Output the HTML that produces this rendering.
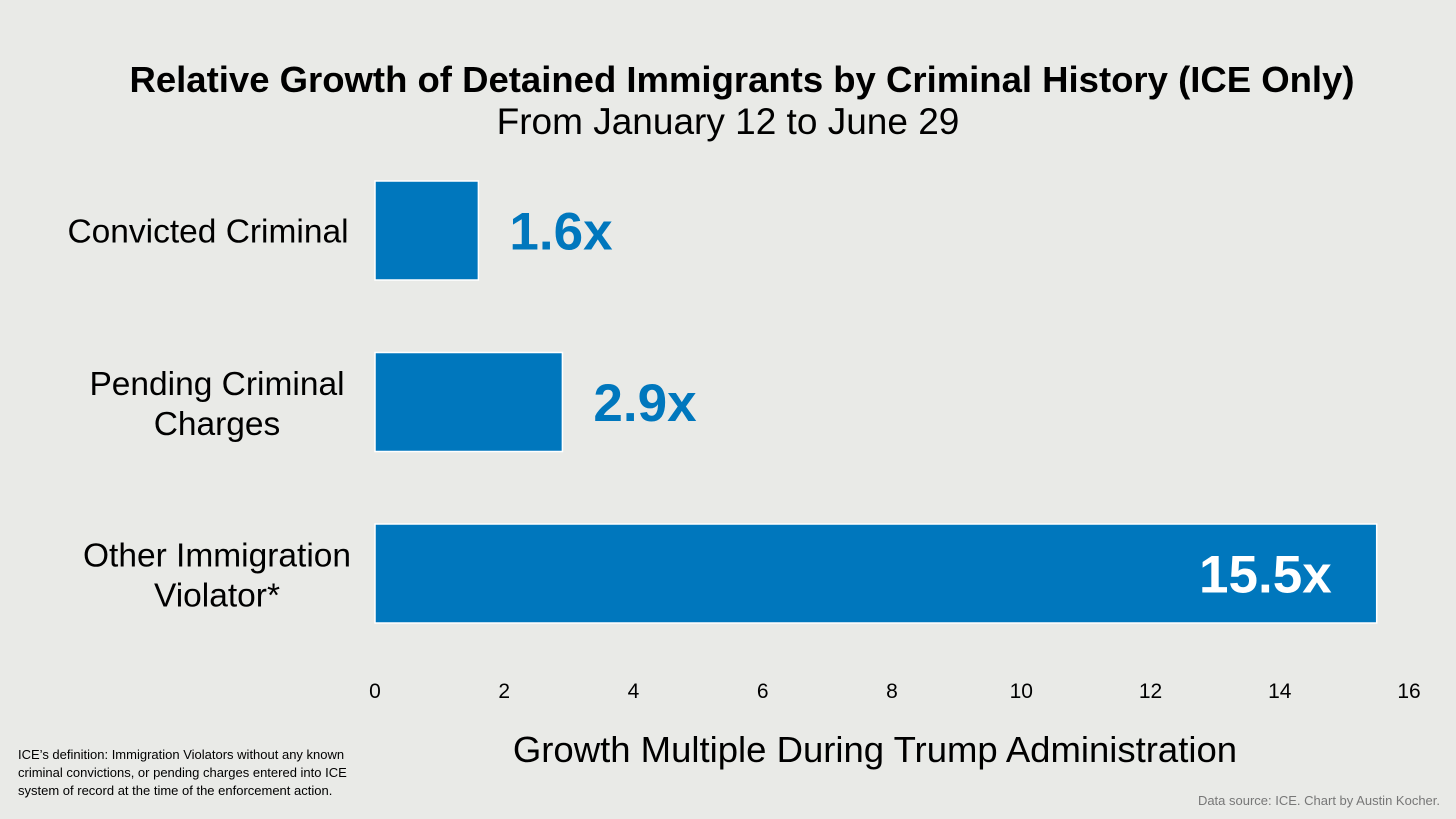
<!DOCTYPE html>
<html><head><meta charset="utf-8"><style>
body{margin:0;background:#e9eae7;}
svg{display:block;font-family:"Liberation Sans",Arial,sans-serif;}
</style></head><body>
<svg id="chart" width="1456" height="819">
<rect width="1456" height="819" fill="#e9eae7"/>
<text x="742" y="92" text-anchor="middle" font-size="36.5" font-weight="bold" fill="#000">Relative Growth of Detained Immigrants by Criminal History (ICE Only)</text>
<text x="728" y="134" text-anchor="middle" font-size="37" fill="#000">From January 12 to June 29</text>
<g id="bars"></g>
<g id="ticks"></g>
<text x="875" y="762" text-anchor="middle" font-size="36.5" fill="#000">Growth Multiple During Trump Administration</text>
<text font-size="13" fill="#000"><tspan x="18" y="759">ICE’s definition: Immigration Violators without any known</tspan><tspan x="18" y="777">criminal convictions, or pending charges entered into ICE</tspan><tspan x="18" y="795">system of record at the time of the enforcement action.</tspan></text>
<text x="1440" y="805" text-anchor="end" font-size="13" fill="#777">Data source: ICE. Chart by Austin Kocher.</text>
</svg>
<script>
const categories=[["Convicted Criminal"],["Pending Criminal","Charges"],["Other Immigration","Violator*"]];
const values=[1.6,2.9,15.5];
const valueLabels=["1.6x","2.9x","15.5x"];
const ticks=[0,2,4,6,8,10,12,14,16];
const NS="http://www.w3.org/2000/svg";
const x0=375,x1=1409,xMax=16;
const xs=v=>x0+(v/xMax)*(x1-x0);
const bandTop=181,bandStep=171.5,barH=99;
function mk(t,a,p,txt){const e=document.createElementNS(NS,t);for(const k in a)e.setAttribute(k,a[k]);if(txt!=null)e.textContent=txt;p.appendChild(e);return e;}
const gb=document.getElementById("bars");
values.forEach((v,i)=>{
 const y=bandTop+i*bandStep;
 const r=mk("rect",{x:x0,y:y,width:xs(v)-x0,height:barH,fill:"#0077bd",stroke:"#fff","stroke-width":1.5},gb);
 
 
 const inside=v>8;
 const t=mk("text",{x:inside?xs(v)-45:xs(v)+31,y:y+barH/2+19,"text-anchor":inside?"end":"start","font-size":53,"font-weight":"bold",fill:inside?"#fff":"#0077bd"},gb,valueLabels[i]);
 
 
 const lines=categories[i];
 const cl=mk("text",{"text-anchor":"middle","font-size":33.5,fill:"#000"},gb);
 
 
 if(lines.length===1){mk("tspan",{x:208,y:y+barH/2+12},cl,lines[0]);}
 else lines.forEach((l,j)=>mk("tspan",{x:217,y:y+barH/2-7+j*40},cl,l));
});
const gt=document.getElementById("ticks");
ticks.forEach(v=>{
 const t=mk("text",{x:xs(v),y:698,"text-anchor":"middle","font-size":21,fill:"#000"},gt,String(v));
 
 
});
</script>
</body></html>
